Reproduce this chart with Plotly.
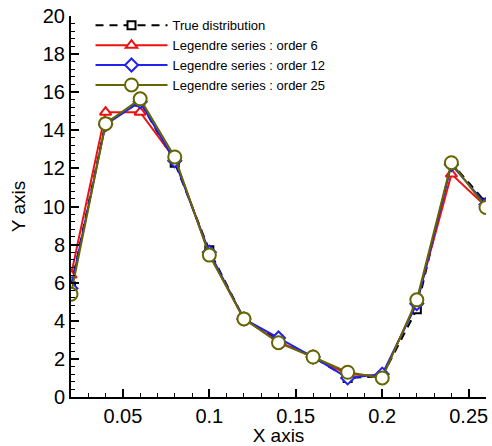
import plotly.graph_objects as go

x_vals = [0.02, 0.04, 0.06, 0.08, 0.10, 0.12, 0.14, 0.16, 0.18, 0.20, 0.22, 0.24, 0.26]
true_dist = [5.8, 14.4, 15.5, 12.3, 7.7, 4.1, 3.0, 2.1, 1.0, 1.1, 4.6, 12.3, 10.2]
order6 = [6.4, 14.95, 14.95, 12.5, 7.5, 4.1, 2.9, 2.1, 1.2, 1.1, 5.0, 11.7, 10.0]
order12 = [5.7, 14.3, 15.5, 12.4, 7.6, 4.1, 3.1, 2.1, 1.0, 1.2, 4.9, 12.2, 10.1]
order25 = [5.4, 14.35, 15.65, 12.6, 7.45, 4.1, 2.85, 2.1, 1.3, 1.0, 5.1, 12.3, 9.95]

names = ["True distribution", "Legendre series : order 6",
         "Legendre series : order 12", "Legendre series : order 25"]

FONT = "Liberation Sans, Arial, sans-serif"

fig = go.Figure()
fig.add_trace(go.Scatter(x=x_vals, y=true_dist, name=names[0], mode="lines+markers",
                         line=dict(color="black", width=2, dash="8px,6px"),
                         marker=dict(symbol="square", size=8, color="white",
                                     line=dict(color="black", width=2))))
fig.add_trace(go.Scatter(x=x_vals, y=order6, name=names[1], mode="lines+markers",
                         line=dict(color="#ee1111", width=2),
                         marker=dict(symbol="triangle-up", size=10, color="white",
                                     line=dict(color="#ee1111", width=2))))
fig.add_trace(go.Scatter(x=x_vals, y=order12, name=names[2], mode="lines+markers",
                         line=dict(color="#2222ee", width=2),
                         marker=dict(symbol="diamond", size=10, color="white",
                                     line=dict(color="#2222ee", width=2))))
fig.add_trace(go.Scatter(x=x_vals, y=order25, name=names[3], mode="lines+markers",
                         line=dict(color="#666600", width=2),
                         marker=dict(symbol="circle", size=13, color="white",
                                     line=dict(color="#666600", width=2))))

fig.update_layout(
    width=492, height=446,
    margin=dict(l=71, r=4, t=16, b=49),
    paper_bgcolor="white", plot_bgcolor="white",
    font=dict(family=FONT, color="black"),
    showlegend=True,
    legend=dict(x=0.047, y=1.015, xanchor="left", yanchor="top",
                bgcolor="rgba(0,0,0,0)", font=dict(size=13, family=FONT),
                itemwidth=72, tracegroupgap=0, borderwidth=0),
    xaxis=dict(range=[0.02, 0.26], tick0=0, dtick=0.05, showgrid=False, zeroline=False,
               showline=True, linecolor="black", linewidth=2,
               ticks="inside", ticklen=8, tickwidth=2, tickcolor="black",
               tickfont=dict(size=20, family=FONT),
               minor=dict(dtick=0.01, ticks="inside", ticklen=4, tickwidth=1, tickcolor="black", showgrid=False),
               title=dict(text="X axis", font=dict(size=19, family=FONT), standoff=1)),
    yaxis=dict(range=[0, 20], tick0=0, dtick=2, showgrid=False, zeroline=False,
               showline=True, linecolor="black", linewidth=2,
               ticks="inside", ticklen=8, tickwidth=2, tickcolor="black",
               tickfont=dict(size=20, family=FONT),
               minor=dict(dtick=0.4, ticks="inside", ticklen=4, tickwidth=1, tickcolor="black", showgrid=False),
               title=dict(text="Y axis", font=dict(size=19, family=FONT), standoff=12)),
)

fig.write_html("out.html", config={"displayModeBar": False},
               post_script="document.body.style.margin='0';")
